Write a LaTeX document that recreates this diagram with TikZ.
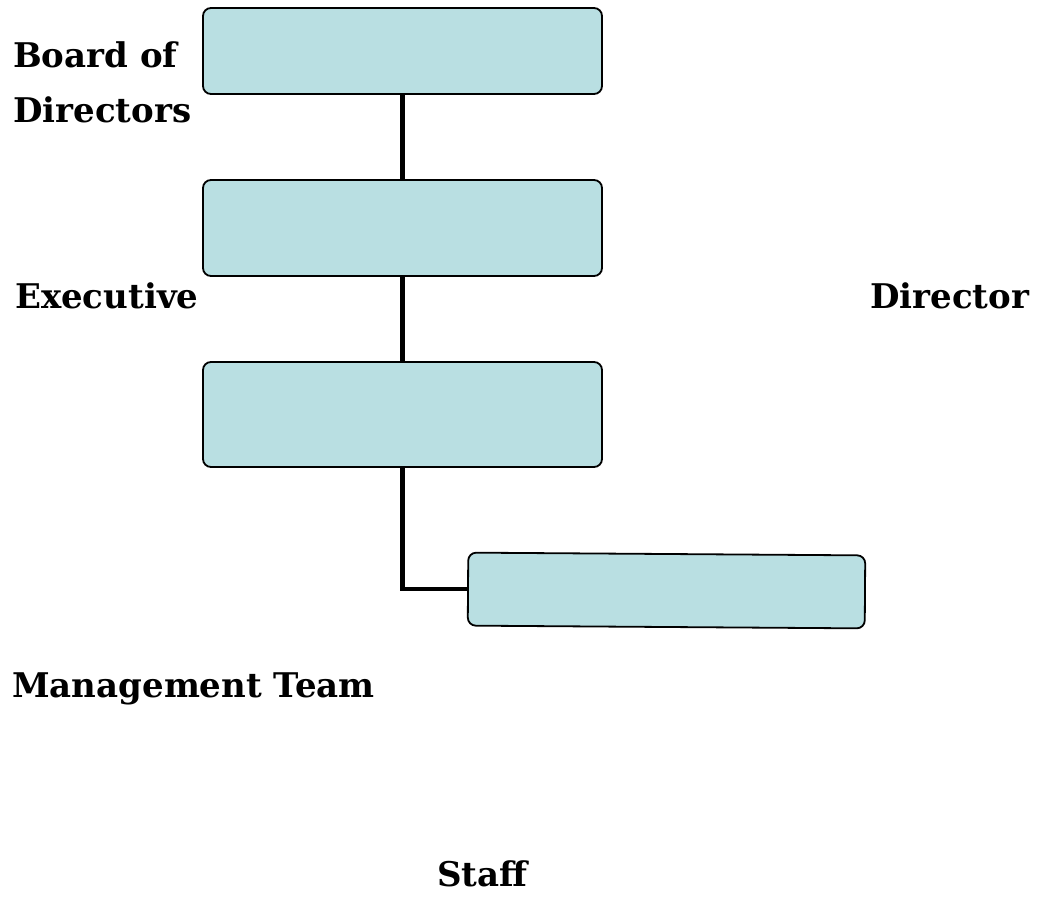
\documentclass[tikz,border=0pt]{standalone}
\usepackage{fontspec}
\setmainfont{DejaVu Serif}
\definecolor{boxfill}{RGB}{185,223,226}
\begin{document}
\begin{tikzpicture}[x=1pt,y=-1pt,
  orgbox/.style={draw=black, line width=1.8pt, fill=boxfill, rounded corners=8pt,
    rectangle, inner sep=0pt},
  link/.style={line width=4.2pt, line cap=rect},
  lbl/.style={inner sep=0pt, anchor=base west, font=\fontsize{34}{40}\selectfont\bfseries}]
  \useasboundingbox (0,0) rectangle (1045,915);
  % hierarchy boxes
  \node[orgbox, minimum width=399pt, minimum height=86pt]  (b1) at (402.5,51)    {};
  \node[orgbox, minimum width=399pt, minimum height=96pt]  (b2) at (402.5,228)   {};
  \node[orgbox, minimum width=399pt, minimum height=105pt] (b3) at (402.5,414.5) {};
  \node[orgbox, minimum width=397pt, minimum height=73pt, rotate=-0.4] (b4) at (666.5,590.5) {};
  % reporting lines
  \draw[link] (b1.south) -- (b2.north);
  \draw[link] (b2.south) -- (b3.north);
  \draw[link] (b3.south) |- (b4.west);
  % labels
  \node[lbl] (t1) at (13,68)  {Board of};
  \node[lbl] (t2) at (13,123) {Directors};
  \node[lbl] (t3) at (15,308) {Executive};
  \node[lbl] (t4) at (870,308) {Director};
  \node[lbl] (t5) at (12,697) {Management Team};
  \node[lbl] (t6) at (437,886) {Staff};
\end{tikzpicture}
\end{document}
